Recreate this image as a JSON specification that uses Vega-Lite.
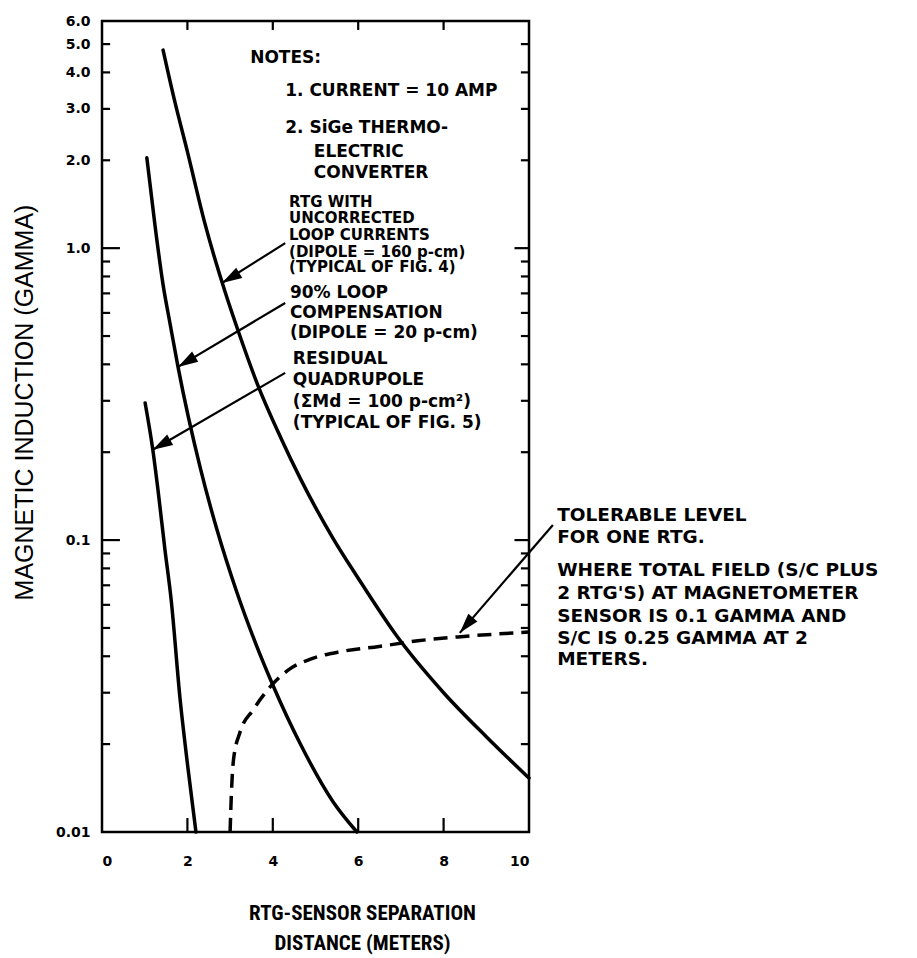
{
  "$schema": "https://vega.github.io/schema/vega-lite/v6.json",
  "width": 427,
  "height": 811,
  "autosize": "none",
  "padding": {"left": 102, "top": 21, "right": 388, "bottom": 126},
  "background": "white",
  "config": {
    "view": {"stroke": "black", "strokeWidth": 2.5},
    "axis": {"grid": false, "domain": false, "ticks": false, "labelColor": "black", "titleColor": "black"}
  },
  "datasets": {
    "curves": [
      {"series": "c1", "x": 1.43, "y": 4.77},
      {"series": "c1", "x": 1.7, "y": 3.2},
      {"series": "c1", "x": 1.99, "y": 2.17},
      {"series": "c1", "x": 2.4, "y": 1.23},
      {"series": "c1", "x": 2.88, "y": 0.71},
      {"series": "c1", "x": 3.2, "y": 0.515},
      {"series": "c1", "x": 3.63, "y": 0.345},
      {"series": "c1", "x": 4.2, "y": 0.222},
      {"series": "c1", "x": 4.64, "y": 0.163},
      {"series": "c1", "x": 5.4, "y": 0.102},
      {"series": "c1", "x": 6.0, "y": 0.074},
      {"series": "c1", "x": 6.9, "y": 0.047},
      {"series": "c1", "x": 8.0, "y": 0.03},
      {"series": "c1", "x": 9.0, "y": 0.0212},
      {"series": "c1", "x": 10.0, "y": 0.0153},
      {"series": "c2", "x": 1.05, "y": 2.04},
      {"series": "c2", "x": 1.24, "y": 1.2},
      {"series": "c2", "x": 1.43, "y": 0.75},
      {"series": "c2", "x": 1.6, "y": 0.545},
      {"series": "c2", "x": 1.78, "y": 0.392},
      {"series": "c2", "x": 2.3, "y": 0.177},
      {"series": "c2", "x": 2.7, "y": 0.1076},
      {"series": "c2", "x": 3.15, "y": 0.0668},
      {"series": "c2", "x": 3.6, "y": 0.0442},
      {"series": "c2", "x": 4.0, "y": 0.0319},
      {"series": "c2", "x": 4.64, "y": 0.0201},
      {"series": "c2", "x": 5.41, "y": 0.0127},
      {"series": "c2", "x": 5.97, "y": 0.01},
      {"series": "c3", "x": 1.01, "y": 0.295},
      {"series": "c3", "x": 1.19, "y": 0.204},
      {"series": "c3", "x": 1.31, "y": 0.149},
      {"series": "c3", "x": 1.475, "y": 0.0925},
      {"series": "c3", "x": 1.62, "y": 0.0624},
      {"series": "c3", "x": 1.83, "y": 0.0284},
      {"series": "c3", "x": 2.01, "y": 0.0167},
      {"series": "c3", "x": 2.2, "y": 0.01},
      {"series": "tol", "x": 3.0, "y": 0.01},
      {"series": "tol", "x": 3.03, "y": 0.0135},
      {"series": "tol", "x": 3.08, "y": 0.0177},
      {"series": "tol", "x": 3.23, "y": 0.0219},
      {"series": "tol", "x": 3.54, "y": 0.0262},
      {"series": "tol", "x": 3.98, "y": 0.0319},
      {"series": "tol", "x": 4.4, "y": 0.0362},
      {"series": "tol", "x": 4.9, "y": 0.0392},
      {"series": "tol", "x": 5.6, "y": 0.0415},
      {"series": "tol", "x": 6.49, "y": 0.0432},
      {"series": "tol", "x": 7.4, "y": 0.0452},
      {"series": "tol", "x": 8.34, "y": 0.0466},
      {"series": "tol", "x": 10.0, "y": 0.0484}
    ],
    "ticks": [
      {"x": 2, "y": 0.01007, "x2": 2, "y2": 0.01117}, {"x": 4, "y": 0.01007, "x2": 4, "y2": 0.01117},
      {"x": 6, "y": 0.01007, "x2": 6, "y2": 0.01117}, {"x": 8, "y": 0.01007, "x2": 8, "y2": 0.01117},
      {"x": 2, "y": 5.96, "x2": 2, "y2": 5.59}, {"x": 4, "y": 5.96, "x2": 4, "y2": 5.59},
      {"x": 6, "y": 5.96, "x2": 6, "y2": 5.59}, {"x": 8, "y": 5.96, "x2": 8, "y2": 5.59},
      {"x": 0.02, "y": 5, "x2": 0.19, "y2": 5}, {"x": 0.02, "y": 4, "x2": 0.19, "y2": 4},
      {"x": 0.02, "y": 3, "x2": 0.19, "y2": 3}, {"x": 0.02, "y": 2, "x2": 0.19, "y2": 2},
      {"x": 0.02, "y": 0.9, "x2": 0.19, "y2": 0.9}, {"x": 0.02, "y": 0.8, "x2": 0.19, "y2": 0.8},
      {"x": 0.02, "y": 0.7, "x2": 0.19, "y2": 0.7}, {"x": 0.02, "y": 0.6, "x2": 0.19, "y2": 0.6},
      {"x": 0.02, "y": 0.5, "x2": 0.19, "y2": 0.5}, {"x": 0.02, "y": 0.4, "x2": 0.19, "y2": 0.4},
      {"x": 0.02, "y": 0.3, "x2": 0.19, "y2": 0.3}, {"x": 0.02, "y": 0.2, "x2": 0.19, "y2": 0.2},
      {"x": 0.02, "y": 0.09, "x2": 0.19, "y2": 0.09}, {"x": 0.02, "y": 0.08, "x2": 0.19, "y2": 0.08},
      {"x": 0.02, "y": 0.07, "x2": 0.19, "y2": 0.07}, {"x": 0.02, "y": 0.06, "x2": 0.19, "y2": 0.06},
      {"x": 0.02, "y": 0.05, "x2": 0.19, "y2": 0.05}, {"x": 0.02, "y": 0.04, "x2": 0.19, "y2": 0.04},
      {"x": 0.02, "y": 0.03, "x2": 0.19, "y2": 0.03}, {"x": 0.02, "y": 0.02, "x2": 0.19, "y2": 0.02},
      {"x": 0.02, "y": 1, "x2": 0.42, "y2": 1}, {"x": 0.02, "y": 0.1, "x2": 0.42, "y2": 0.1},
      {"x": 9.98, "y": 5, "x2": 9.81, "y2": 5}, {"x": 9.98, "y": 4, "x2": 9.81, "y2": 4},
      {"x": 9.98, "y": 3, "x2": 9.81, "y2": 3}, {"x": 9.98, "y": 2, "x2": 9.81, "y2": 2},
      {"x": 9.98, "y": 0.9, "x2": 9.81, "y2": 0.9}, {"x": 9.98, "y": 0.8, "x2": 9.81, "y2": 0.8},
      {"x": 9.98, "y": 0.7, "x2": 9.81, "y2": 0.7}, {"x": 9.98, "y": 0.6, "x2": 9.81, "y2": 0.6},
      {"x": 9.98, "y": 0.5, "x2": 9.81, "y2": 0.5}, {"x": 9.98, "y": 0.4, "x2": 9.81, "y2": 0.4},
      {"x": 9.98, "y": 0.3, "x2": 9.81, "y2": 0.3}, {"x": 9.98, "y": 0.2, "x2": 9.81, "y2": 0.2},
      {"x": 9.98, "y": 0.09, "x2": 9.81, "y2": 0.09}, {"x": 9.98, "y": 0.08, "x2": 9.81, "y2": 0.08},
      {"x": 9.98, "y": 0.07, "x2": 9.81, "y2": 0.07}, {"x": 9.98, "y": 0.06, "x2": 9.81, "y2": 0.06},
      {"x": 9.98, "y": 0.05, "x2": 9.81, "y2": 0.05}, {"x": 9.98, "y": 0.04, "x2": 9.81, "y2": 0.04},
      {"x": 9.98, "y": 0.03, "x2": 9.81, "y2": 0.03}, {"x": 9.98, "y": 0.02, "x2": 9.81, "y2": 0.02},
      {"x": 9.98, "y": 1, "x2": 9.66, "y2": 1}, {"x": 9.98, "y": 0.1, "x2": 9.66, "y2": 0.1}
    ],
    "arrows": [
      {"id": "a1", "x": 4.29, "y": 1.04, "x2": 2.81, "y2": 0.76},
      {"id": "a2", "x": 4.29, "y": 0.649, "x2": 1.78, "y2": 0.392},
      {"id": "a3", "x": 4.29, "y": 0.374, "x2": 1.19, "y2": 0.204},
      {"id": "a4", "x": 10.56, "y": 0.1127, "x2": 8.38, "y2": 0.0481}
    ],
    "heads": [
      {"id": "a1", "x": 2.81, "y": 0.76},
      {"id": "a2", "x": 1.78, "y": 0.392},
      {"id": "a3", "x": 1.19, "y": 0.204},
      {"id": "a4", "x": 8.38, "y": 0.0481}
    ],
    "notes": [
      {"grp": "in", "label": "NOTES:", "x": 3.47, "y": 4.48},
      {"grp": "in", "label": "1. CURRENT = 10 AMP", "x": 4.29, "y": 3.45},
      {"grp": "in", "label": "2. SiGe THERMO-", "x": 4.29, "y": 2.58},
      {"grp": "in", "label": "ELECTRIC", "x": 4.96, "y": 2.14},
      {"grp": "in", "label": "CONVERTER", "x": 4.96, "y": 1.81},
      {"grp": "rtg", "label": "RTG WITH", "x": 4.38, "y": 1.44},
      {"grp": "rtg", "label": "UNCORRECTED", "x": 4.38, "y": 1.27},
      {"grp": "rtg", "label": "LOOP CURRENTS", "x": 4.38, "y": 1.11},
      {"grp": "rtg", "label": "(DIPOLE = 160 p-cm)", "x": 4.38, "y": 0.97},
      {"grp": "rtg", "label": "(TYPICAL OF FIG. 4)", "x": 4.38, "y": 0.862},
      {"grp": "in", "label": "90% LOOP", "x": 4.4, "y": 0.702},
      {"grp": "in", "label": "COMPENSATION", "x": 4.4, "y": 0.6},
      {"grp": "in", "label": "(DIPOLE = 20 p-cm)", "x": 4.4, "y": 0.513},
      {"grp": "in", "label": "RESIDUAL", "x": 4.47, "y": 0.417},
      {"grp": "in", "label": "QUADRUPOLE", "x": 4.47, "y": 0.3535},
      {"grp": "in", "label": "(ΣMd = 100 p-cm²)", "x": 4.47, "y": 0.297},
      {"grp": "in", "label": "(TYPICAL OF FIG. 5)", "x": 4.47, "y": 0.252},
      {"grp": "out", "label": "TOLERABLE LEVEL", "x": 10.66, "y": 0.1219},
      {"grp": "out", "label": "FOR ONE RTG.", "x": 10.66, "y": 0.1025},
      {"grp": "out", "label": "WHERE TOTAL FIELD (S/C PLUS", "x": 10.66, "y": 0.0791},
      {"grp": "out", "label": "2 RTG'S) AT MAGNETOMETER", "x": 10.66, "y": 0.0659},
      {"grp": "out", "label": "SENSOR IS 0.1 GAMMA AND", "x": 10.66, "y": 0.055},
      {"grp": "out", "label": "S/C IS 0.25 GAMMA AT 2", "x": 10.66, "y": 0.0462},
      {"grp": "out", "label": "METERS.", "x": 10.66, "y": 0.0392}
    ]
  },
  "encoding": {
    "x": {
      "field": "x", "type": "quantitative",
      "scale": {"domain": [0, 10], "nice": false, "zero": false},
      "axis": {
        "orient": "bottom", "values": [0, 2, 4, 6, 8, 10], "ticks": false,
        "labelFont": "DejaVu Sans", "labelFontWeight": "bold", "labelFontSize": 14, "labelPadding": 22,
        "title": ["RTG-SENSOR SEPARATION", "DISTANCE (METERS)"],
        "titleFont": "Roboto Condensed, Liberation Sans Narrow, Liberation Sans", "titleFontWeight": "bold", "titleFontSize": 21,
        "titleLineHeight": 30, "titleX": 260, "titleY": 70, "titleAlign": "center", "titleBaseline": "top", "titleAnchor": "middle"
      }
    },
    "y": {
      "field": "y", "type": "quantitative",
      "scale": {"type": "log", "domain": [0.01, 6], "nice": false},
      "axis": {
        "orient": "left", "ticks": false, "labelPadding": 12,
        "values": [6, 5, 4, 3, 2, 1, 0.1, 0.01],
        "labelExpr": "datum.value >= 0.999 ? format(datum.value, '.1f') : (abs(datum.value - 0.1) < 1e-9 ? '0.1' : '0.01')",
        "labelFont": "DejaVu Sans", "labelFontWeight": "bold", "labelFontSize": 14,
        "title": "MAGNETIC INDUCTION (GAMMA)",
        "titleFont": "Liberation Sans", "titleFontWeight": "normal", "titleFontSize": 25,
        "titleAngle": 270, "titleX": -78, "titleY": 381, "titleAlign": "center", "titleBaseline": "middle"
      }
    }
  },
  "layer": [
    {
      "data": {"name": "ticks"},
      "mark": {"type": "rule", "color": "black", "strokeWidth": 2.2, "zindex": 5},
      "encoding": {"x2": {"field": "x2"}, "y2": {"field": "y2"}}
    },
    {
      "data": {"name": "curves"},
      "transform": [{"filter": "datum.series != 'tol'"}],
      "mark": {"type": "line", "color": "black", "strokeWidth": 3.5, "strokeCap": "round", "interpolate": "monotone"},
      "encoding": {"detail": {"field": "series"}}
    },
    {
      "data": {"name": "curves"},
      "transform": [{"filter": "datum.series == 'tol'"}],
      "mark": {"type": "line", "color": "black", "strokeWidth": 3.5, "strokeDash": [14, 8], "interpolate": "monotone"},
      "encoding": {}
    },
    {
      "data": {"name": "arrows"},
      "mark": {"type": "rule", "color": "black", "strokeWidth": 2.2},
      "encoding": {"x2": {"field": "x2"}, "y2": {"field": "y2"}}
    },
    {
      "data": {"name": "heads"},
      "transform": [{"filter": "datum.id == 'a1'"}],
      "mark": {"type": "point", "shape": "M0,0L0.3,1L-0.3,1Z", "size": 1600, "filled": true, "color": "black", "opacity": 1, "angle": 239.5}
    },
    {
      "data": {"name": "heads"},
      "transform": [{"filter": "datum.id == 'a2'"}],
      "mark": {"type": "point", "shape": "M0,0L0.3,1L-0.3,1Z", "size": 1600, "filled": true, "color": "black", "opacity": 1, "angle": 239}
    },
    {
      "data": {"name": "heads"},
      "transform": [{"filter": "datum.id == 'a3'"}],
      "mark": {"type": "point", "shape": "M0,0L0.3,1L-0.3,1Z", "size": 1600, "filled": true, "color": "black", "opacity": 1, "angle": 240}
    },
    {
      "data": {"name": "heads"},
      "transform": [{"filter": "datum.id == 'a4'"}],
      "mark": {"type": "point", "shape": "M0,0L0.3,1L-0.3,1Z", "size": 1600, "filled": true, "color": "black", "opacity": 1, "angle": 220.7}
    },
    {
      "data": {"name": "notes"},
      "transform": [{"filter": "datum.grp == 'out'"}],
      "mark": {"type": "text", "align": "left", "baseline": "middle", "font": "DejaVu Sans", "fontWeight": "bold", "fontSize": 18.5, "color": "black"},
      "encoding": {"text": {"field": "label"}}
    },
    {
      "data": {"name": "notes"},
      "transform": [{"filter": "datum.grp == 'in'"}],
      "mark": {"type": "text", "align": "left", "baseline": "middle", "font": "DejaVu Sans", "fontWeight": "bold", "fontSize": 17, "color": "black"},
      "encoding": {"text": {"field": "label"}}
    },
    {
      "data": {"name": "notes"},
      "transform": [{"filter": "datum.grp == 'rtg'"}],
      "mark": {"type": "text", "align": "left", "baseline": "middle", "font": "DejaVu Sans", "fontWeight": "bold", "fontSize": 15, "color": "black"},
      "encoding": {"text": {"field": "label"}}
    }
  ]
}
